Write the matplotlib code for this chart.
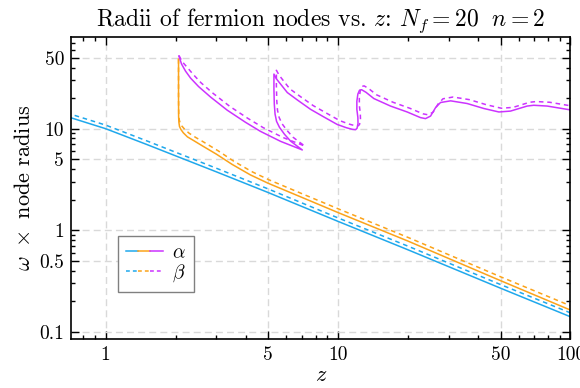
# Radios de los nodos fermiónicos vs z (escala log-log)

import matplotlib
matplotlib.use('Agg')
import matplotlib.pyplot as plt
from matplotlib.lines import Line2D
from matplotlib.legend_handler import HandlerTuple
from matplotlib.ticker import FixedLocator, NullFormatter

plt.rcParams['font.family'] = 'serif'
plt.rcParams['font.serif'] = ['cmr10', 'DejaVu Serif']
plt.rcParams['mathtext.fontset'] = 'cm'
plt.rcParams['axes.formatter.use_mathtext'] = True

# Nodo 1 (azul)
z_azul = [0.68, 1.0, 1.5, 2.0, 3.0, 5.0, 10.0, 20.0, 50.0, 100.0]
r_azul_alfa = [13.2, 10.0, 7.0, 5.4, 3.75, 2.35, 1.22, 0.64, 0.268, 0.14]
r_azul_beta = [14.3, 10.85, 7.6, 5.86, 4.07, 2.55, 1.32, 0.695, 0.291, 0.153]

# Nodo 2 (naranja)
z_naranja_alfa = [2.06, 2.06, 2.062, 2.068, 2.08, 2.11, 2.16, 2.25, 2.4, 2.6,
                  3.0, 3.5, 4.2, 5.0, 7.0, 10.0, 20.0, 50.0, 100.0]
r_naranja_alfa = [48.5, 20.0, 13.0, 11.5, 10.5, 9.8, 9.1, 8.3, 7.6, 6.8,
                  5.6, 4.45, 3.5, 2.9, 2.1, 1.49, 0.78, 0.318, 0.163]
z_naranja_beta = [2.06, 2.06, 2.064, 2.075, 2.095, 2.13, 2.19, 2.29, 2.44, 2.65,
                  3.05, 3.55, 4.25, 5.05, 7.05, 10.1, 20.2, 50.5, 101.0]
r_naranja_beta = [48.5, 20.0, 13.5, 12.2, 11.3, 10.6, 9.85, 9.0, 8.2, 7.35,
                  6.05, 4.8, 3.78, 3.13, 2.27, 1.61, 0.84, 0.344, 0.178]

# Nodo 3 (morado), curva con pliegues
z_morado_alfa = [2.067, 2.123, 2.208, 2.321, 2.512, 2.829, 3.338, 4.0, 4.64, 5.66,
                 7.02, 6.70, 6.25, 5.89, 5.60, 5.44, 5.36, 5.32, 5.30, 5.30,
                 5.44, 5.66, 6.05, 6.70, 7.62, 8.66, 9.92, 10.88, 11.54, 11.89,
                 12.07, 12.19, 12.17, 12.05, 12.05, 12.17, 12.37, 12.63, 13.2, 14.26,
                 16.82, 19.84, 22.63, 23.78, 25.0, 26.27, 27.6, 30.5, 35.9, 42.4,
                 49.2, 55.2, 65.1, 69.5, 79.4, 100.0]
r_morado_alfa = [52.0, 43.3, 36.9, 31.5, 26.0, 20.5, 15.2, 11.55, 9.4, 7.5,
                 6.17, 6.68, 7.54, 8.78, 10.3, 11.8, 13.9, 17.4, 24.5, 34.5,
                 30.8, 27.5, 22.7, 19.1, 15.5, 13.1, 11.0, 10.2, 9.84, 9.77,
                 10.07, 11.28, 12.94, 15.5, 18.6, 21.9, 23.9, 24.2, 22.8, 19.8,
                 16.7, 14.6, 12.85, 12.56, 13.3, 16.1, 18.1, 18.8, 17.7, 15.8,
                 14.6, 14.9, 16.7, 17.0, 16.7, 15.3]
z_morado_beta = [2.07, 2.14, 2.26, 2.38, 2.575, 2.90, 3.42, 4.10, 4.76, 5.80,
                 7.20, 6.87, 6.41, 6.04, 5.74, 5.58, 5.49, 5.45, 5.43, 5.43,
                 5.58, 5.80, 6.20, 6.87, 7.81, 8.88, 10.17, 11.15, 11.83, 12.19,
                 12.37, 12.49, 12.47, 12.35, 12.35, 12.47, 12.68, 12.95, 13.53, 14.62,
                 17.24, 20.34, 23.2, 24.37, 25.63, 26.93, 28.29, 31.26, 36.8, 43.5,
                 50.4, 56.6, 66.7, 71.2, 81.4, 100.0]
r_morado_beta = [52.5, 45.5, 39.5, 34.3, 28.3, 22.3, 16.6, 12.6, 10.25, 8.18,
                 6.73, 7.28, 8.22, 9.57, 11.2, 12.9, 15.2, 19.0, 26.7, 37.6,
                 33.6, 30.0, 24.7, 20.8, 16.9, 14.3, 12.0, 11.1, 10.7, 10.65,
                 10.98, 12.3, 14.1, 16.9, 20.3, 23.9, 26.1, 26.4, 24.9, 21.6,
                 18.2, 15.9, 14.0, 13.7, 14.5, 17.5, 19.7, 20.5, 19.3, 17.2,
                 15.9, 16.2, 18.2, 18.5, 18.2, 16.8]

x_ticks = [1, 5, 10, 50, 100]
y_ticks = [0.1, 0.5, 1, 5, 10, 50]

azul = '#1fa8ec'
naranja = '#fba31a'
morado = '#cc33ff'

fig = plt.figure(figsize=(5.8, 3.88), dpi=100)
ax = fig.add_axes([0.1224, 0.1255, 0.8612, 0.7791])
ax.set_xscale('log')
ax.set_yscale('log')

lw = 1.1
dash = (0, (3, 2.5))
ax.plot(z_azul, r_azul_alfa, color=azul, lw=lw)
ax.plot(z_azul, r_azul_beta, color=azul, lw=lw, linestyle=dash)
ax.plot(z_naranja_alfa, r_naranja_alfa, color=naranja, lw=lw)
ax.plot(z_naranja_beta, r_naranja_beta, color=naranja, lw=lw, linestyle=dash)
ax.plot(z_morado_alfa, r_morado_alfa, color=morado, lw=lw)
ax.plot(z_morado_beta, r_morado_beta, color=morado, lw=lw, linestyle=dash)

ax.set_xlim(0.71, 100)
ax.set_ylim(0.084, 80)

# Ticks estilo Mathematica: hacia dentro, en los cuatro lados
ax.xaxis.set_major_locator(FixedLocator(x_ticks))
ax.yaxis.set_major_locator(FixedLocator(y_ticks))
ax.set_xticklabels([str(t) for t in x_ticks])
ax.set_yticklabels([str(t) for t in y_ticks])
x_menores = [0.8, 0.9, 2, 3, 4, 6, 7, 8, 9, 20, 30, 40, 60, 70, 80, 90]
y_menores = [0.2, 0.3, 0.4, 0.6, 0.7, 0.8, 0.9, 2, 3, 4, 6, 7, 8, 9,
             20, 30, 40, 60, 70]
ax.xaxis.set_minor_locator(FixedLocator(x_menores))
ax.yaxis.set_minor_locator(FixedLocator(y_menores))
ax.xaxis.set_minor_formatter(NullFormatter())
ax.yaxis.set_minor_formatter(NullFormatter())
ax.tick_params(which='both', direction='in', top=True, right=True,
               labelsize=14, width=1.0, colors='black')
ax.tick_params(which='major', length=6, pad=5)
ax.tick_params(which='minor', length=3)
for s in ax.spines.values():
    s.set_linewidth(1.2)

ax.grid(True, which='major', color='#d9d9d9', linestyle=(0, (5, 3)), lw=1.0)
ax.set_axisbelow(True)

ax.set_title(r'Radii of fermion nodes vs. $z$: $N_f = 20\ \ n = 2$',
             fontsize=17, pad=8)
ax.set_xlabel(r'$z$', fontsize=16, labelpad=1)
ax.set_ylabel(r'$\omega\ \times$ node radius', fontsize=16, labelpad=4)

# Leyenda con los tres colores en cada entrada
h_alfa = tuple(Line2D([], [], color=c, lw=lw) for c in (azul, naranja, morado))
h_beta = tuple(Line2D([], [], color=c, lw=lw, linestyle=(0, (2.5, 2)))
               for c in (azul, naranja, morado))
leg = ax.legend([h_alfa, h_beta], [r'$\alpha$', r'$\beta$'],
                handler_map={tuple: HandlerTuple(ndivide=None, pad=0.0)},
                loc='lower left', bbox_to_anchor=(0.094, 0.156),
                borderaxespad=0, fontsize=14, handlelength=1.9,
                handletextpad=0.5, borderpad=0.4, labelspacing=0.05,
                fancybox=False, framealpha=1, edgecolor='#808080')
leg.get_frame().set_linewidth(1.0)

plt.savefig('out.png', dpi=100)
